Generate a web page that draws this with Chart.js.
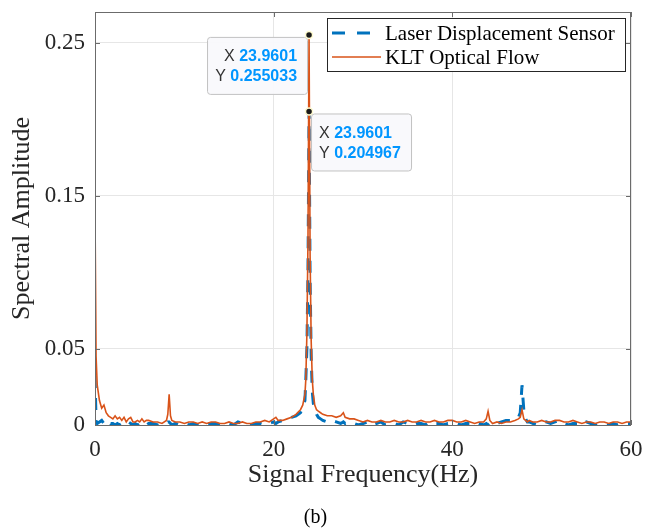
<!DOCTYPE html>
<html>
<head>
<meta charset="utf-8">
<title>Spectrum (b)</title>
<script src="https://cdn.jsdelivr.net/npm/chart.js@4.4.1/dist/chart.umd.min.js"></script>
<style>
  html, body { margin: 0; padding: 0; background: #fff; }
  #wrap { width: 650px; height: 531px; }
</style>
</head>
<body>
<div id="wrap"><canvas id="spectrum" width="650" height="531"></canvas></div>
<script>
// frequency axis (Hz)
const freq = [
  0, 0.12, 0.25, 0.5, 0.75, 1, 1.25, 1.5, 1.75, 2,
  2.25, 2.5, 2.75, 3, 3.25, 3.5, 3.75, 4, 4.25, 4.5,
  4.75, 5, 5.25, 5.5, 5.75, 6, 6.5, 7, 7.5, 8,
  8.15, 8.3, 8.45, 8.6, 9, 9.5, 10, 10.5, 11, 11.5,
  12, 12.5, 13, 13.5, 14, 14.5, 15, 15.5, 16, 16.5,
  17, 17.5, 18, 18.5, 19, 19.5, 20, 20.25, 20.5, 21,
  21.5, 22, 22.5, 23, 23.25, 23.5, 23.6, 23.72, 23.84, 23.96,
  24.08, 24.2, 24.32, 24.44, 24.6, 24.8, 25, 25.25, 25.5, 26,
  26.5, 27, 27.5, 27.8, 28, 28.5, 29, 29.5, 30, 30.5,
  31, 31.5, 32, 32.5, 33, 33.5, 34, 34.5, 35, 35.5,
  36, 36.5, 37, 37.5, 38, 38.5, 39, 39.5, 40, 40.5,
  41, 41.5, 42, 42.5, 43, 43.5, 43.8, 44, 44.2, 44.5,
  45, 45.5, 46, 46.5, 47, 47.4, 47.6, 47.8, 48, 48.2,
  48.4, 48.6, 49, 49.5, 50, 50.5, 51, 51.5, 52, 52.5,
  53, 53.5, 54, 54.5, 55, 55.5, 56, 56.5, 57, 57.5,
  58, 58.5, 59, 59.5, 60
];

// Laser Displacement Sensor
const laserAmp = [
  0.032, 0.003, 0.001, 0.002, 0.003, 0.001, 0.002, 0.003, 0.001, 0.001,
  0.000, 0.001, 0.000, 0.001, 0.000, 0.001, 0.002, 0.001, 0.000, 0.001,
  0.000, 0.001, 0.000, 0.001, 0.000, 0.001, 0.001, 0.000, 0.001, 0.001,
  0.002, 0.002, 0.001, 0.000, 0.001, 0.000, 0.001, 0.000, 0.001, 0.000,
  0.001, 0.000, 0.001, 0.001, 0.000, 0.001, 0.001, 0.000, 0.002, 0.001,
  0.001, 0.000, 0.001, 0.001, 0.000, 0.001, 0.002, 0.001, 0.002, 0.003,
  0.004, 0.005, 0.006, 0.008, 0.011, 0.016, 0.030, 0.050, 0.100, 0.204967,
  0.095, 0.045, 0.022, 0.014, 0.010, 0.007, 0.005, 0.004, 0.003, 0.002,
  0.003, 0.002, 0.001, 0.002, 0.001, 0.002, 0.001, 0.000, 0.001, 0.002,
  0.000, 0.001, 0.002, 0.000, 0.001, 0.001, 0.000, 0.002, 0.001, 0.000,
  0.001, 0.001, 0.000, 0.002, 0.001, 0.001, 0.000, 0.001, 0.001, 0.001,
  0.000, 0.001, 0.001, 0.002, 0.001, 0.000, 0.001, 0.000, 0.001, 0.000,
  0.001, 0.002, 0.003, 0.003, 0.004, 0.005, 0.008, 0.026, 0.010, 0.004,
  0.002, 0.002, 0.001, 0.000, 0.001, 0.002, 0.001, 0.002, 0.003, 0.001,
  0.000, 0.001, 0.001, 0.000, 0.002, 0.001, 0.000, 0.001, 0.001, 0.000,
  0.001, 0.000, 0.001, 0.001, 0.001
];

// KLT Optical Flow
const kltAmp = [
  0.139, 0.045, 0.026, 0.016, 0.011, 0.013, 0.008, 0.006, 0.005, 0.004,
  0.006, 0.004, 0.005, 0.003, 0.005, 0.002, 0.004, 0.005, 0.002, 0.002,
  0.003, 0.002, 0.004, 0.002, 0.003, 0.003, 0.002, 0.002, 0.001, 0.003,
  0.007, 0.020, 0.006, 0.003, 0.002, 0.002, 0.001, 0.002, 0.002, 0.001,
  0.002, 0.001, 0.002, 0.002, 0.001, 0.001, 0.002, 0.001, 0.001, 0.002,
  0.001, 0.001, 0.002, 0.002, 0.003, 0.002, 0.004, 0.005, 0.003, 0.003,
  0.004, 0.005, 0.007, 0.010, 0.013, 0.020, 0.030, 0.060, 0.120, 0.255033,
  0.110, 0.055, 0.030, 0.020, 0.013, 0.010, 0.009, 0.008, 0.007, 0.006,
  0.006, 0.005, 0.006, 0.008, 0.005, 0.004, 0.004, 0.003, 0.002, 0.003,
  0.002, 0.002, 0.003, 0.002, 0.002, 0.003, 0.002, 0.002, 0.003, 0.002,
  0.002, 0.003, 0.002, 0.002, 0.003, 0.002, 0.002, 0.003, 0.003, 0.002,
  0.002, 0.003, 0.002, 0.001, 0.002, 0.002, 0.004, 0.009, 0.003, 0.001,
  0.002, 0.001, 0.002, 0.002, 0.003, 0.004, 0.005, 0.010, 0.004, 0.003,
  0.002, 0.003, 0.002, 0.002, 0.003, 0.002, 0.002, 0.003, 0.003, 0.002,
  0.002, 0.003, 0.002, 0.001, 0.002, 0.002, 0.001, 0.002, 0.002, 0.001,
  0.002, 0.002, 0.001, 0.002, 0.002
];

const xTicks = [0, 20, 40, 60];
const yTicks = [0, 0.05, 0.15, 0.25];
const seriesNames = ['Laser Displacement Sensor', 'KLT Optical Flow'];

// data tips shown on the figure
const tipX = [23.9601, 23.9601];
const tipY = [0.255033, 0.204967];
const tipSide = ['left', 'right'];

const BLUE = '#0072BD';
const ORANGE = '#D95319';
const SERIF = '"Liberation Serif", "Times New Roman", serif';
const SANS = '"Liberation Sans", Arial, sans-serif';

function toPoints(ys) {
  return freq.map((f, i) => ({ x: f, y: ys[i] }));
}


// frame, inward ticks, legend box and data tips (MATLAB look)
const decorations = {
  id: 'decorations',
  afterDatasetsDraw(chart) {
    const { ctx, chartArea: a, scales } = chart;
    const xs = scales.x, ys = scales.y;
    ctx.save();

    // axes box
    ctx.strokeStyle = '#6b6b6b';
    ctx.lineWidth = 1;
    ctx.strokeRect(a.left + 0.5, a.top + 0.5, a.right - a.left - 1, a.bottom - a.top);
    ctx.beginPath();
    xTicks.forEach(v => {
      const px = Math.round(xs.getPixelForValue(v)) + 0.5;
      ctx.moveTo(px, a.bottom); ctx.lineTo(px, a.bottom - 5);
      ctx.moveTo(px, a.top); ctx.lineTo(px, a.top + 5);
    });
    yTicks.forEach(v => {
      const py = Math.round(ys.getPixelForValue(v)) + 0.5;
      ctx.moveTo(a.left, py); ctx.lineTo(a.left + 5, py);
      ctx.moveTo(a.right, py); ctx.lineTo(a.right - 5, py);
    });
    ctx.stroke();

    // legend
    const lx = 327, ly = 18, lw = 298, lh = 53;
    ctx.fillStyle = '#fff';
    ctx.fillRect(lx, ly, lw, lh);
    ctx.strokeStyle = '#262626';
    ctx.strokeRect(lx + 0.5, ly + 0.5, lw, lh);
    const rows = [
      { color: BLUE, width: 3, dash: [13, 12], y: ly + 15, end: lx + 44 },
      { color: ORANGE, width: 1.6, dash: [], y: ly + 39, end: lx + 54 }
    ];
    rows.forEach((r, i) => {
      ctx.beginPath();
      ctx.setLineDash(r.dash);
      ctx.strokeStyle = r.color;
      ctx.lineWidth = r.width;
      ctx.moveTo(lx + 5, r.y);
      ctx.lineTo(r.end, r.y);
      ctx.stroke();
      ctx.setLineDash([]);
      ctx.fillStyle = '#000';
      ctx.font = '21px ' + SERIF;
      ctx.textBaseline = 'middle';
      ctx.textAlign = 'left';
      ctx.fillText(seriesNames[i], lx + 58, r.y + 1);
    });

    // data tips
    tipX.forEach((tx, i) => {
      const px = xs.getPixelForValue(tx);
      const py = ys.getPixelForValue(tipY[i]);
      const bw = 100, bh = 57;
      const bx = tipSide[i] === 'left' ? px - 2 - bw : px + 2;
      const by = py + 2;
      ctx.beginPath();
      ctx.roundRect(bx + 0.5, by + 0.5, bw, bh, 3);
      ctx.fillStyle = 'rgba(249,249,252,0.95)';
      ctx.fill();
      ctx.strokeStyle = '#c2c2c2';
      ctx.lineWidth = 1;
      ctx.stroke();

      const lines = [['X ', tx.toFixed(4)], ['Y ', tipY[i].toFixed(6)]];
      ctx.textBaseline = 'middle';
      lines.forEach((ln, k) => {
        const ty = by + 20 + k * 20;
        ctx.font = '16px ' + SANS;
        const w1 = ctx.measureText(ln[0]).width;
        ctx.font = 'bold 16px ' + SANS;
        const w2 = ctx.measureText(ln[1]).width;
        const start = tipSide[i] === 'left' ? bx + bw - 10 - w1 - w2 : bx + 8;
        ctx.textAlign = 'left';
        ctx.font = '16px ' + SANS;
        ctx.fillStyle = '#333';
        ctx.fillText(ln[0], start, ty);
        ctx.font = 'bold 16px ' + SANS;
        ctx.fillStyle = '#0096FF';
        ctx.fillText(ln[1], start + w1, ty);
      });

      ctx.beginPath();
      ctx.arc(px, py, 3.5, 0, Math.PI * 2);
      ctx.fillStyle = '#1a1a1a';
      ctx.fill();
      ctx.strokeStyle = '#fffbd0';
      ctx.lineWidth = 1.5;
      ctx.stroke();
    });

    ctx.restore();
  }
};


new Chart(document.getElementById('spectrum'), {
  type: 'line',
  data: {
    datasets: [{
      label: seriesNames[0],
      data: toPoints(laserAmp),
      borderColor: BLUE,
      borderWidth: 3,
      borderDash: [12, 10],
      pointRadius: 0,
      tension: 0,
      order: 2
    }, {
      label: seriesNames[1],
      data: toPoints(kltAmp),
      borderColor: ORANGE,
      borderWidth: 1.6,
      pointRadius: 0,
      tension: 0,
      order: 1
    }]
  },
  plugins: [decorations],
  options: {
    responsive: false,
    animation: false,
    devicePixelRatio: 1,
    layout: { padding: { left: 0, right: 19, top: 12, bottom: 0 } },
    plugins: {
      legend: { display: false },
      tooltip: { enabled: false },
      title: {
        display: true,
        position: 'bottom',
        text: '(b)',
        color: '#000',
        font: { family: SERIF, size: 20, weight: 'normal' },
        padding: { top: 10, bottom: 1 }
      }
    },
    scales: {
      x: {
        type: 'linear',
        min: 0,
        max: 60,
        afterBuildTicks: s => { s.ticks = xTicks.map(v => ({ value: v })); },
        afterFit: s => { s.height = 71; s.paddingLeft = 0; s.paddingRight = 0; },
        grid: { color: '#e6e6e6', drawTicks: false },
        border: { display: false },
        ticks: {
          padding: 11,
          color: '#262626',
          font: { family: SERIF, size: 23 },
          maxRotation: 0,
          callback: v => String(v)
        },
        title: {
          display: true,
          text: 'Signal Frequency(Hz)',
          color: '#262626',
          font: { family: SERIF, size: 26 },
          padding: { top: 0, bottom: 5 }
        }
      },
      y: {
        min: 0,
        max: 0.27,
        afterBuildTicks: s => { s.ticks = yTicks.map(v => ({ value: v })); },
        afterFit: s => { s.width = 95; s.paddingTop = 0; s.paddingBottom = 0; },
        grid: { color: '#e6e6e6', drawTicks: false },
        border: { display: false },
        ticks: {
          padding: 10,
          color: '#262626',
          font: { family: SERIF, size: 23 },
          callback: v => String(v)
        },
        title: {
          display: true,
          text: 'Spectral Amplitude',
          color: '#262626',
          font: { family: SERIF, size: 26 },
          padding: { top: 7, bottom: 0 }
        }
      }
    }
  }
});
</script>
</body>
</html>
